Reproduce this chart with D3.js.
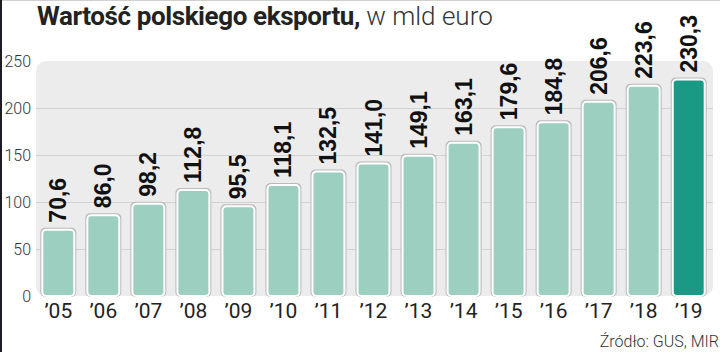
<!DOCTYPE html>
<html>
<head>
<meta charset="utf-8">
<script src="https://cdn.jsdelivr.net/npm/d3@7"></script>
<style>
  html, body { margin: 0; padding: 0; background: #fff; }
  svg { display: block; }
</style>
</head>
<body>
<svg id="chart" width="720" height="352"></svg>
<script>
// dane
const years = ["’05", "’06", "’07", "’08", "’09", "’10", "’11", "’12", "’13", "’14", "’15", "’16", "’17", "’18", "’19"];
const values = [70.6, 86.0, 98.2, 112.8, 95.5, 118.1, 132.5, 141.0, 149.1, 163.1, 179.6, 184.8, 206.6, 223.6, 230.3];
const yTicks = [0, 50, 100, 150, 200, 250];

const svg = d3.select('#chart');
const W = 720, H = 352;

// ramka
svg.append('rect').attr('x', 0).attr('y', 0).attr('width', W).attr('height', 1).attr('fill', '#cfcfcf');
svg.append('rect').attr('x', 0).attr('y', 0).attr('width', 2).attr('height', H).attr('fill', '#1c1c22');

const x = d3.scaleBand()
    .domain(years)
    .range([36, 711])
    .paddingInner(0.29)
    .paddingOuter(0.14);

const y = d3.scaleLinear()
    .domain([0, 250])
    .range([296, 61]);

// tło wykresu
svg.append('rect')
    .attr('x', 36)
    .attr('y', y(250))
    .attr('width', 713 - 36)
    .attr('height', y(0) - y(250))
    .attr('rx', 10)
    .attr('fill', '#ececec');

// linie siatki
svg.selectAll('.grid')
    .data(yTicks.filter(d => d > 0 && d < 250))
    .join('line')
    .attr('class', 'grid')
    .attr('x1', 36)
    .attr('x2', 713)
    .attr('y1', d => Math.round(y(d)) + 0.5)
    .attr('y2', d => Math.round(y(d)) + 0.5)
    .attr('stroke', '#d2d2d2')
    .attr('stroke-width', 1);

// oś Y
svg.selectAll('.ytick')
    .data(yTicks)
    .join('text')
    .attr('class', 'ytick')
    .attr('x', 31)
    .attr('y', d => y(d))
    .attr('dy', '0.35em')
    .attr('text-anchor', 'end')
    .attr('font-family', 'Roboto, sans-serif')
    .attr('font-weight', 300)
    .attr('font-size', 16)
    .attr('fill', '#333')
    .text(d => d);

// słupki - cień
svg.selectAll('.shadow')
    .data(values)
    .join('rect')
    .attr('class', 'shadow')
    .attr('x', (d, i) => x(years[i]) - 2)
    .attr('y', d => y(d) - 2)
    .attr('width', x.bandwidth() + 4)
    .attr('height', d => y(0) - y(d) + 3)
    .attr('rx', 5)
    .attr('fill', '#b9b9b9');

// słupki
svg.selectAll('.bar')
    .data(values)
    .join('rect')
    .attr('class', 'bar')
    .attr('x', (d, i) => x(years[i]))
    .attr('y', d => y(d))
    .attr('width', x.bandwidth())
    .attr('height', d => y(0) - y(d))
    .attr('rx', 4)
    .attr('fill', (d, i) => i === values.length - 1 ? '#1a9a85' : '#9dcfc1')
    .attr('stroke', '#fff')
    .attr('stroke-width', 2);

// etykiety wartości
svg.selectAll('.val')
    .data(values)
    .join('text')
    .attr('class', 'val')
    .attr('transform', (d, i) => `translate(${[x(years[i]) + x.bandwidth() / 2 + 8, y(d) - 7]}) rotate(-90)`)
    .attr('font-family', '"Liberation Sans", Arial, sans-serif')
    .attr('font-weight', 'bold')
    .attr('font-size', 23)
    .attr('fill', '#111')
    .text(d => d.toFixed(1).replace('.', ','));

// oś X
svg.selectAll('.xtick')
    .data(years)
    .join('text')
    .attr('class', 'xtick')
    .attr('x', d => x(d) + x.bandwidth() / 2)
    .attr('y', 318)
    .attr('text-anchor', 'middle')
    .attr('font-family', 'Roboto, sans-serif')
    .attr('font-size', 21)
    .attr('fill', '#222')
    .text(d => d);

// tytuł
const title = svg.append('text')
    .attr('x', 37)
    .attr('y', 25)
    .attr('font-family', 'Roboto, sans-serif')
    .attr('font-size', 26)
    .attr('fill', '#222');
title.append('tspan').attr('font-weight', 'bold').attr('letter-spacing', -0.4).text('Wartość polskiego eksportu,');
title.append('tspan').attr('font-weight', 300).attr('fill', '#333').text(' w mld euro');

// źródło
svg.append('text')
    .attr('x', 719)
    .attr('y', 347)
    .attr('text-anchor', 'end')
    .attr('font-family', 'Roboto, sans-serif')
    .attr('font-weight', 300)
    .attr('font-size', 16)
    .attr('fill', '#333')
    .text('Źródło: GUS, MIR');
</script>
</body>
</html>
